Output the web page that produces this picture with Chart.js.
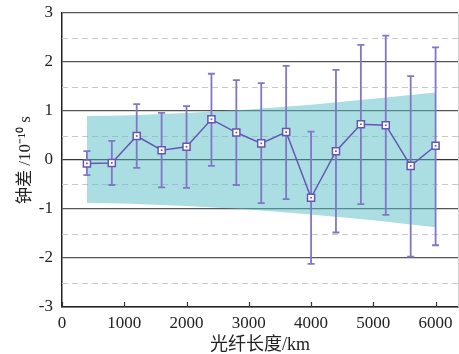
<!DOCTYPE html>
<html><head><meta charset="utf-8">
<script src="https://cdn.jsdelivr.net/npm/chart.js@4/dist/chart.umd.min.js"></script>
<style>html,body{margin:0;padding:0;background:#fff}</style>
</head><body>
<canvas id="c" width="459" height="354"></canvas>
<script>
const fiberLength = [400, 800, 1200, 1600, 2000, 2400, 2800, 3200, 3600, 4000, 4400, 4800, 5200, 5600, 6000];
const clockDiff   = [-0.07, -0.06, 0.49, 0.20, 0.27, 0.83, 0.56, 0.34, 0.57, -0.77, 0.18, 0.73, 0.71, -0.12, 0.29];
const errUpper    = [0.18, 0.39, 1.14, 0.96, 1.10, 1.76, 1.63, 1.57, 1.92, 0.58, 1.84, 2.35, 2.54, 1.71, 2.30];
const errLower    = [-0.31, -0.51, -0.16, -0.56, -0.57, -0.12, -0.51, -0.88, -0.80, -2.12, -1.48, -0.90, -1.12, -1.97, -1.74];
const bandLength  = [400, 1000, 2000, 3000, 4000, 5000, 6000];
const bandUpper   = [0.90, 0.91, 0.96, 1.03, 1.13, 1.25, 1.38];
const bandLower   = [-0.88, -0.89, -0.94, -1.01, -1.11, -1.23, -1.37];
const xTicks      = [0, 1000, 2000, 3000, 4000, 5000, 6000];
const yTicks      = [-3, -2, -1, 0, 1, 2, 3];
const yMinorTicks = [-2.5, -1.5, -0.5, 0.5, 1.5, 2.5];
const xTitle = '光纤长度/km';
const yTitle = '钟差 /10⁻¹⁰ s';

const FONT = "'Liberation Serif', 'Times New Roman', 'Noto Sans CJK SC', serif";
const PURPLE = '#6656b4';
const ERR = '#8276c8';

const pts = fiberLength.map((x, i) => ({x, y: clockDiff[i]}));

const decor = {
  id: 'decor',
  beforeDatasetsDraw(chart) {
    const {ctx, chartArea: a, scales: {y}} = chart;
    ctx.save();
    ctx.strokeStyle = '#c8c8c8';
    ctx.lineWidth = 1;
    ctx.setLineDash([6, 4]);
    yMinorTicks.forEach(v => {
      const py = Math.round(y.getPixelForValue(v)) + 0.5;
      ctx.beginPath(); ctx.moveTo(a.left, py); ctx.lineTo(a.right, py); ctx.stroke();
    });
    ctx.restore();
  },
  beforeDatasetDraw(chart, args) {
    if (args.index !== 1) return;
    const {ctx, scales: {x, y}} = chart;
    ctx.save();
    ctx.strokeStyle = ERR;
    ctx.lineWidth = 1.8;
    fiberLength.forEach((v, i) => {
      const px = x.getPixelForValue(v);
      const top = y.getPixelForValue(errUpper[i]);
      const bot = y.getPixelForValue(errLower[i]);
      ctx.beginPath();
      ctx.moveTo(px, top); ctx.lineTo(px, bot);
      ctx.moveTo(px - 3.5, top); ctx.lineTo(px + 3.5, top);
      ctx.moveTo(px - 3.5, bot); ctx.lineTo(px + 3.5, bot);
      ctx.stroke();
    });
    ctx.restore();
  },
  afterDatasetsDraw(chart) {
    const {ctx, chartArea: a, scales: {x}} = chart;
    ctx.save();
    ctx.strokeStyle = '#333';
    ctx.lineWidth = 1.2;
    xTicks.forEach(v => {
      const px = Math.round(x.getPixelForValue(v)) + 0.5;
      ctx.beginPath(); ctx.moveTo(px, a.bottom); ctx.lineTo(px, a.bottom - 5); ctx.stroke();
    });
    ctx.strokeStyle = '#d0d0d0';
    ctx.lineWidth = 1;
    ctx.beginPath(); ctx.moveTo(a.right + 0.5, a.top); ctx.lineTo(a.right + 0.5, a.bottom); ctx.stroke();
    ctx.restore();
  }
};

new Chart(document.getElementById('c'), {
  type: 'line',
  data: {
    datasets: [
      {
        data: pts, order: 0, showLine: false,
        pointStyle: 'rect', pointRadius: 1.2, pointBackgroundColor: PURPLE, pointBorderWidth: 0
      },
      {
        data: pts, order: 1, borderColor: PURPLE, borderWidth: 1.5,
        pointStyle: 'rect', pointRadius: 5, pointBackgroundColor: '#fff',
        pointBorderColor: PURPLE, pointBorderWidth: 1.5, tension: 0
      },
      {
        data: bandLength.map((x, i) => ({x, y: bandUpper[i]})), order: 2,
        borderWidth: 0, pointRadius: 0, fill: '+1', backgroundColor: 'rgba(88,190,200,0.5)'
      },
      {
        data: bandLength.map((x, i) => ({x, y: bandLower[i]})), order: 3,
        borderWidth: 0, pointRadius: 0, fill: false
      }
    ]
  },
  options: {
    responsive: false, animation: false, devicePixelRatio: 1,
    layout: {autoPadding: false, padding: {left: 0, top: 13, right: 1, bottom: 0}},
    plugins: {legend: {display: false}, tooltip: {enabled: false}},
    scales: {
      x: {
        type: 'linear', min: 0, max: 6360,
        afterBuildTicks: s => { s.ticks = xTicks.map(v => ({value: v})); },
        afterFit: s => { s.height = 47; },
        grid: {display: true, drawOnChartArea: false, drawTicks: true, tickLength: 6, tickColor: 'rgba(0,0,0,0)'},
        border: {display: true, color: '#222', width: 1.5},
        ticks: {padding: 0, color: '#222', font: {family: FONT, size: 17}, maxRotation: 0,
                callback: v => String(v)},
        title: {display: true, text: xTitle, color: '#222', font: {family: FONT, size: 18, lineHeight: 1.0}, padding: {top: 0, bottom: 0}}
      },
      y: {
        type: 'linear', min: -3, max: 3,
        afterBuildTicks: s => { s.ticks = yTicks.map(v => ({value: v})); },
        afterFit: s => { s.width = 62; },
        grid: {drawTicks: true, tickLength: 9, tickColor: 'rgba(0,0,0,0)',
               color: c => c.tick && c.tick.value === 0 ? '#333' : '#555', lineWidth: 1.3},
        border: {display: true, color: '#222', width: 1.5},
        ticks: {padding: 0, color: '#222', font: {family: FONT, size: 17}, callback: v => String(v)},
        title: {display: true, text: yTitle, color: '#222', font: {family: FONT, size: 17}, padding: {top: 15, bottom: 0}}
      }
    }
  },
  plugins: [decor]
});
</script>
</body></html>
